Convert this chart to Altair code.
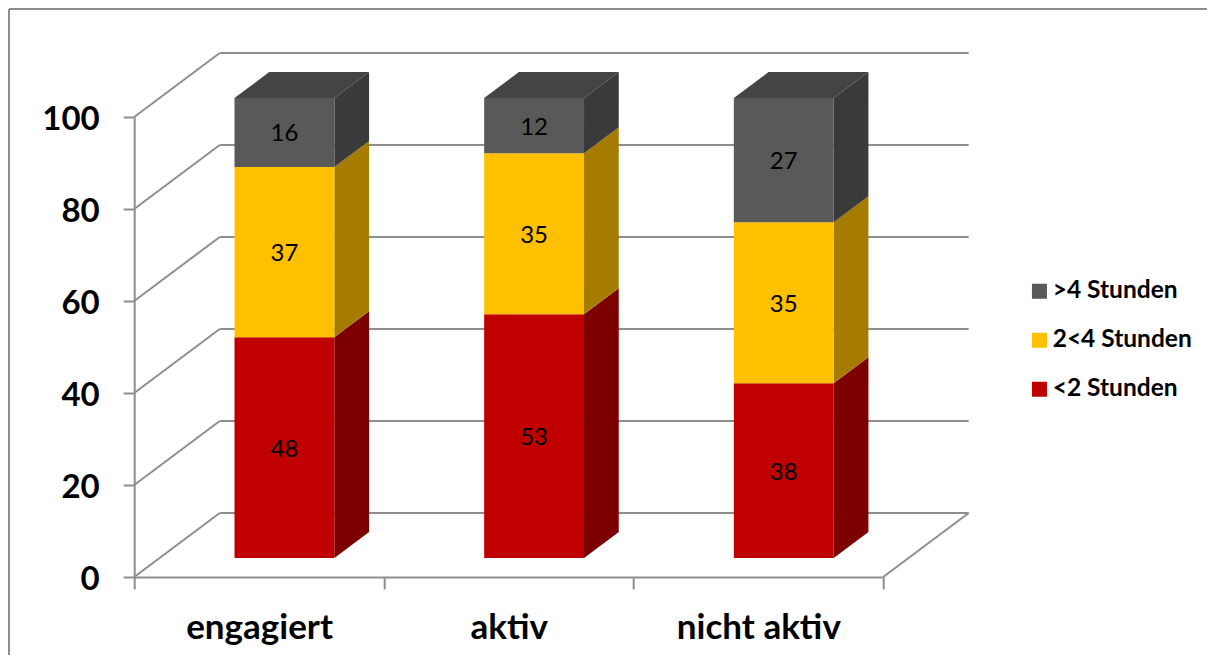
import altair as alt
import pandas as pd

categories = ["engagiert", "aktiv", "nicht aktiv"]
series = [">4 Stunden", "2<4 Stunden", "<2 Stunden"]
lt2 = [48, 53, 38]
mid = [37, 35, 35]
gt4 = [16, 12, 27]
y_ticks = [0, 20, 40, 60, 80, 100]
front_colors = ["#595959", "#FFC000", "#C00000"]
side_colors = ["#3A3A3A", "#A67C00", "#7C0000"]
top_color = "#444444"
line_color = "#8E8E8E"
FONT = "Lato"

# oblique projection of the depth axis into axis units
DX, DY = 0.3425, 13.91
D0, D1 = 0.297, 0.703
BAR0, BAR1 = 0.3, 0.7


def px(c, d):
    return c + d * DX


def py(v, d):
    return v + d * DY


front, sides, tops, labels = [], [], [], []
for i, cat in enumerate(categories):
    base = 0
    for name, vals, side in [
        ("<2 Stunden", lt2, side_colors[2]),
        ("2<4 Stunden", mid, side_colors[1]),
        (">4 Stunden", gt4, side_colors[0]),
    ]:
        v = vals[i]
        end = min(base + v, 100)
        front.append(dict(x=px(i + BAR0, D0), x2=px(i + BAR1, D0), y=py(base, D0), y2=py(end, D0), s=name))
        labels.append(dict(x=px(i + 0.5, D0), y=py((base + end) / 2, D0), t=str(v)))
        sid = f"{cat}{name}"
        for d in (D0, D1):
            sides.append(dict(id=sid, x=px(i + BAR1, d), y=py(base, d), y2=py(end, d), c=side))
        base = end
    xa, xb = i + BAR0, i + BAR1
    yf, yb = py(base, D0), py(base, D1)
    for x, up, lo in [(px(xa, D0), yf, yf), (px(xa, D1), yb, yf), (px(xb, D0), yb, yf), (px(xb, D1), yb, yb)]:
        tops.append(dict(id=cat, x=x, y=up, y2=lo))

wall = []
for v in y_ticks:
    wall.append(dict(id=f"s{v}", x=px(0, 0), y=py(v, 0)))
    wall.append(dict(id=f"s{v}", x=px(0, 1), y=py(v, 1)))
    wall.append(dict(id=f"b{v}", x=px(0, 1), y=py(v, 1)))
    wall.append(dict(id=f"b{v}", x=px(3, 1), y=py(v, 1)))
wall.append(dict(id="floor", x=px(3, 0), y=py(0, 0)))
wall.append(dict(id="floor", x=px(3, 1), y=py(0, 1)))

x_scale = alt.Scale(domain=[0, 3], nice=False, zero=False)
y_scale = alt.Scale(domain=[0, 100], nice=False)

lbl_map = "{" + ",".join(f"'{i + 0.5}':'{c}'" for i, c in enumerate(categories)) + "}"

x_axis = alt.Axis(
    values=[0, 0.5, 1, 1.5, 2, 2.5, 3],
    title=None, grid=False,
    labelExpr=f"{lbl_map}[datum.value] || ''",
    labelFont=FONT, labelFontWeight="bold", labelFontSize=35, labelColor="#000000",
    labelPadding=21, labelFlush=False, labelOverlap=False,
    domainColor=line_color, domainWidth=2,
    tickColor=line_color, tickWidth=2, tickSize=12,
    tickOpacity={"condition": {"test": "datum.value % 1 != 0", "value": 0}, "value": 1},
)
y_axis = alt.Axis(
    values=y_ticks, title=None, grid=False,
    labelFont=FONT, labelFontWeight="bold", labelFontSize=33, labelColor="#000000",
    labelPadding=24, labelOffset=2,
    domainColor=line_color, domainWidth=2,
    tickColor=line_color, tickWidth=2, tickSize=11,
)

X = alt.X("x:Q", scale=x_scale, axis=x_axis)
Y = alt.Y("y:Q", scale=y_scale, axis=y_axis)

grid = alt.Chart(pd.DataFrame(wall)).mark_line(color=line_color, strokeWidth=2, clip=False).encode(
    x=X, y=Y, detail="id:N"
)
side_l = alt.Chart(pd.DataFrame(sides)).mark_area(orient="vertical", clip=False).encode(
    x=X, y=Y, y2="y2:Q", detail="id:N", color=alt.Color("c:N", scale=None)
)
top_l = alt.Chart(pd.DataFrame(tops)).mark_area(orient="vertical", color=top_color, clip=False).encode(
    x=X, y=Y, y2="y2:Q", detail="id:N"
)
front_l = alt.Chart(pd.DataFrame(front)).mark_rect(clip=False).encode(
    x=X, x2="x2:Q", y=Y, y2="y2:Q",
    color=alt.Color(
        "s:N",
        scale=alt.Scale(domain=series, range=front_colors),
        legend=alt.Legend(
            title=None, orient="none", legendX=893, legendY=162,
            symbolType="square", symbolSize=225, symbolStrokeWidth=0,
            labelFont=FONT, labelFontWeight="bold", labelFontSize=24.5, labelColor="#000000",
            labelOffset=1, rowPadding=24, values=series,
        ),
    ),
)
text_l = alt.Chart(pd.DataFrame(labels)).mark_text(
    font=FONT, fontSize=24, color="#000000", baseline="middle", align="center", clip=False, dy=2
).encode(x=X, y=Y, text="t:N")

frame_left = alt.Chart(pd.DataFrame({"a": [0]})).mark_rule(color=line_color, strokeWidth=2).encode(
    x=alt.value(-125.2), y=alt.value(-108), y2=alt.value(560)
)
frame_top = alt.Chart(pd.DataFrame({"a": [0]})).mark_rule(color=line_color, strokeWidth=2).encode(
    y=alt.value(-108), x=alt.value(-125.2), x2=alt.value(1090)
)

chart = (
    alt.layer(frame_left, frame_top, grid, side_l, top_l, front_l, text_l)
    .resolve_scale(color="independent")
    .properties(
        width=749, height=460,
        padding={"left": 126.2, "top": 109, "right": 323.8, "bottom": 78},
        autosize=alt.AutoSizeParams(type="none"),
    )
    .configure_view(stroke=None)
)
chart.save("out.html", embed_options={"renderer": "svg", "actions": False})
